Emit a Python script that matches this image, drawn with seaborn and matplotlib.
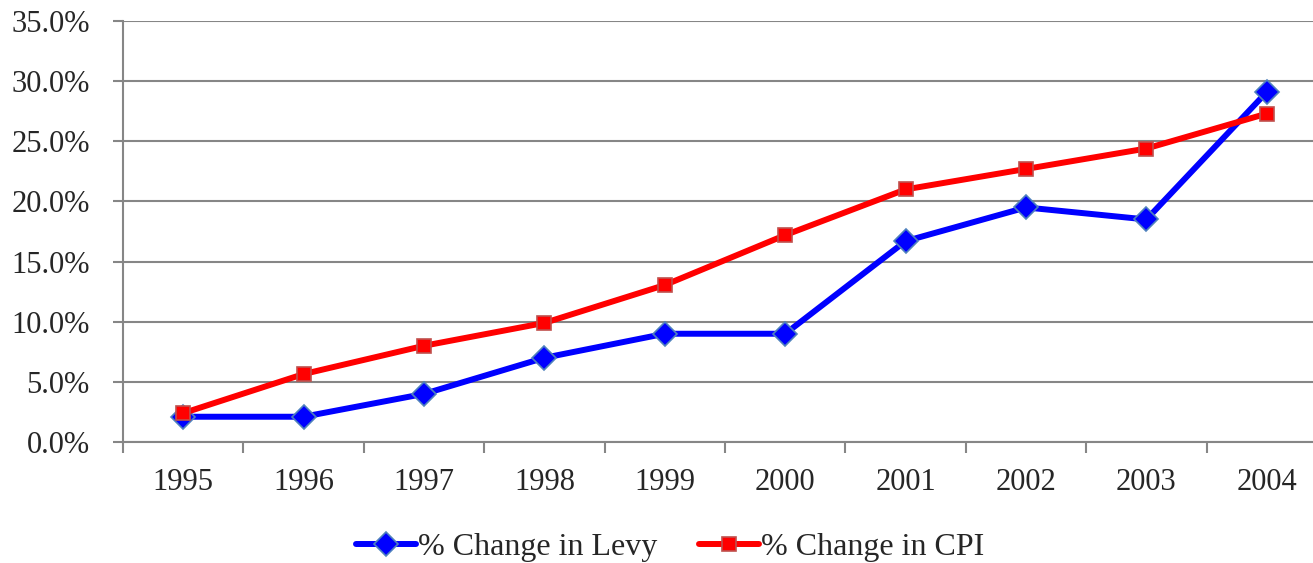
import numpy as np
import pandas as pd
import matplotlib
matplotlib.use("Agg")
import matplotlib.pyplot as plt
from matplotlib.ticker import PercentFormatter, FixedLocator
import seaborn as sns

years = ["1995", "1996", "1997", "1998", "1999", "2000", "2001", "2002", "2003", "2004"]
levy = [2.1, 2.1, 4.0, 7.0, 9.0, 9.0, 16.7, 19.5, 18.5, 29.1]
cpi = [2.4, 5.65, 8.0, 9.9, 13.05, 17.2, 21.0, 22.7, 24.4, 27.3]

sns.set_style("white")
plt.rcParams['font.family'] = ['Liberation Serif', 'DejaVu Serif']

df = pd.DataFrame({"pos": np.arange(len(years)), "levy": levy, "cpi": cpi})

fig = plt.figure(figsize=(13.13, 5.63), dpi=100)
ax = fig.add_axes([123 / 1313, 1 - 442 / 563, 1204 / 1313, 421 / 563])

grid_col = "#868686"
sns.lineplot(data=df, x="pos", y="levy", ax=ax, color="#0000FF", lw=4.3,
             marker="D", markersize=12.5, markeredgecolor="#4F81BD",
             markeredgewidth=1.2, label="% Change in Levy", zorder=3)
sns.lineplot(data=df, x="pos", y="cpi", ax=ax, color="#FF0000", lw=4.3,
             marker="s", markersize=10.5, markeredgecolor="#C0504D",
             markeredgewidth=1.2, label="% Change in CPI", zorder=4)

ax.set_xlim(-0.5, len(years) - 0.5)
ax.set_ylim(0, 35)
ax.set_yticks(np.arange(0, 36, 5))
ax.yaxis.set_major_formatter(PercentFormatter(decimals=1))
ax.set_xticks(df["pos"])
ax.set_xticklabels(years)
ax.xaxis.set_minor_locator(FixedLocator(np.arange(-0.5, len(years), 1)))
ax.set_xlabel("")
ax.set_ylabel("")

ax.grid(axis="y", color=grid_col, lw=1.5)
ax.set_axisbelow(True)
for s in ["top", "right"]:
    ax.spines[s].set_visible(False)
for s in ["left", "bottom"]:
    ax.spines[s].set_color(grid_col)
    ax.spines[s].set_linewidth(1.5)

ax.tick_params(axis="y", which="major", length=7, width=1.5, color=grid_col,
               direction="out", pad=17, labelsize=22, left=True)
ax.tick_params(axis="x", which="major", length=0, pad=19, labelsize=22)
ax.tick_params(axis="x", which="minor", length=8, width=1.5, color=grid_col,
               direction="out", bottom=True)

ax.get_legend().remove()
handles, labels = ax.get_legend_handles_labels()
fig.legend(handles, labels, loc="center", bbox_to_anchor=(670 / 1313, 1 - 547 / 563),
           ncol=2, frameon=False, fontsize=23, handlelength=1.9,
           handletextpad=0.05, columnspacing=1.3)

fig.savefig("out.png", dpi=100)
